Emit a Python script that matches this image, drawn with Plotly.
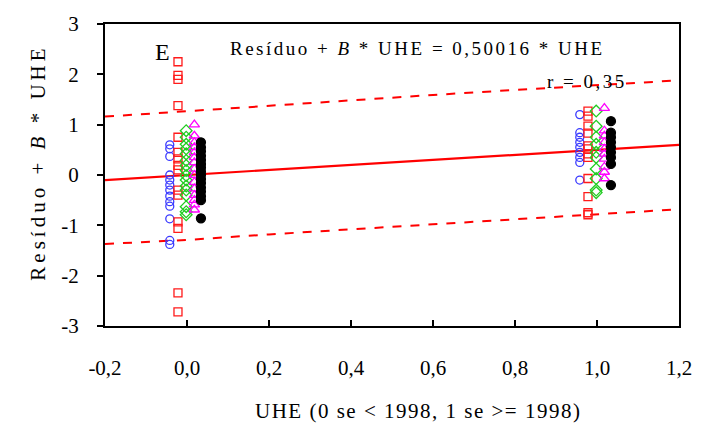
import plotly.graph_objects as go

# ---- data ----
group_offsets = {"blue": -0.042, "red": -0.022, "green": -0.002, "magenta": 0.018, "black": 0.034}

blue_0 = [0.6, 0.52, 0.37, 0.0, -0.1, -0.2, -0.3, -0.42, -0.53, -0.62, -0.87, -1.3, -1.38]
blue_1 = [1.2, 0.84, 0.75, 0.65, 0.55, 0.45, 0.35, 0.25, -0.1]
red_0 = [2.25, 1.98, 1.9, 1.38, 0.75, 0.45, 0.32, 0.19, 0.1, -0.3, -0.4, -0.93, -1.06, -2.34, -2.72]
red_1 = [1.27, 1.17, 0.97, 0.83, 0.58, 0.52, 0.42, 0.35, -0.07, -0.43, -0.75, -0.79]
green_0 = [0.88, 0.75, 0.61, 0.52, 0.42, 0.29, 0.19, 0.09, -0.01, -0.1, -0.22, -0.3, -0.4, -0.63, -0.73, -0.79]
green_1 = [1.27, 0.97, 0.75, 0.61, 0.45, 0.35, 0.12, -0.07, -0.3, -0.35]
magenta_0 = [1.0, 0.78, 0.65, 0.55, 0.45, 0.35, 0.25, 0.12, 0.0, -0.14, -0.27, -0.4, -0.5, -0.59, -0.69]
magenta_1 = [1.33, 0.88, 0.78, 0.65, 0.52, 0.42, 0.32, 0.16, 0.06, -0.07]
black_0 = [0.65, 0.55, 0.47, 0.38, 0.3, 0.22, 0.15, 0.07, 0.0, -0.08, -0.16, -0.25, -0.33, -0.42, -0.5, -0.86]
black_1 = [1.07, 0.84, 0.75, 0.65, 0.55, 0.45, 0.35, 0.22, -0.2]

fit_x = [-0.2, 1.2]
fit_y = [-0.1, 0.6]
band_x = [-0.2, 0.0, 0.2, 0.4, 0.6, 0.8, 1.0, 1.2]
band_upper = [1.16, 1.27, 1.38, 1.49, 1.59, 1.69, 1.78, 1.88]
band_lower = [-1.37, -1.29, -1.18, -1.08, -0.98, -0.88, -0.78, -0.68]

x_tickvals = [-0.2, 0.0, 0.2, 0.4, 0.6, 0.8, 1.0, 1.2]
x_ticktext = ["-0,2", "0,0", "0,2", "0,4", "0,6", "0,8", "1,0", "1,2"]
y_tickvals = [-3, -2, -1, 0, 1, 2, 3]
y_ticktext = ["-3", "-2", "-1", "0", "1", "2", "3"]

FONT = "Liberation Serif, Times New Roman, serif"

fig = go.Figure()

# band and fit line
fig.add_trace(go.Scatter(x=band_x, y=band_upper, mode="lines",
                         line=dict(color="#ff0000", width=2, dash="dash"), hoverinfo="skip"))
fig.add_trace(go.Scatter(x=band_x, y=band_lower, mode="lines",
                         line=dict(color="#ff0000", width=2, dash="dash"), hoverinfo="skip"))
fig.add_trace(go.Scatter(x=fit_x, y=fit_y, mode="lines",
                         line=dict(color="#ff0000", width=2.2), hoverinfo="skip"))

def add_group(vals0, vals1, key, symbol, color, size=8):
    off = group_offsets[key]
    xs = [0 + off] * len(vals0) + [1 + off] * len(vals1)
    ys = list(vals0) + list(vals1)
    fig.add_trace(go.Scatter(
        x=xs, y=ys, mode="markers",
        marker=dict(symbol=symbol, size=size, color=color,
                    line=dict(color=color, width=1.3)),
    ))

add_group(blue_0, blue_1, "blue", "circle-open", "#3a3aff", size=8)
add_group(red_0, red_1, "red", "square-open", "#ff1a1a", size=8)
add_group(green_0, green_1, "green", "diamond-open", "#22cc22", size=9)
add_group(magenta_0, magenta_1, "magenta", "triangle-up-open", "#ff00ff", size=9)
add_group(black_0, black_1, "black", "circle", "#000000", size=9)

sp = lambda s, px: f'<span style="letter-spacing:{px}px">{s}</span>'

fig.update_layout(
    width=704, height=430,
    margin=dict(l=105, r=21, t=20, b=104),
    paper_bgcolor="white", plot_bgcolor="white",
    showlegend=False,
    font=dict(family=FONT, color="black", size=20),
    xaxis=dict(range=[-0.2, 1.2], tickvals=x_tickvals, ticktext=x_ticktext,
               showgrid=False, zeroline=False, showline=True, linecolor="black", linewidth=2,
               mirror=True, ticks="inside", ticklen=6, tickwidth=2, tickcolor="black",
               ticklabelstandoff=22,
               tickfont=dict(size=21, family=FONT)),
    yaxis=dict(range=[-3, 3], tickvals=y_tickvals, ticktext=y_ticktext,
               showgrid=False, zeroline=False, showline=True, linecolor="black", linewidth=2,
               mirror=True, ticks="outside", ticklen=6, tickwidth=2, tickcolor="black",
               ticklabelstandoff=14,
               tickfont=dict(size=21, family=FONT)),
    annotations=[
        # axis titles
        dict(x=(420 - 105) / 578, y=-(412 - 326) / 306, xref="paper", yref="paper",
             xanchor="center", yanchor="middle",
             text=sp("UHE (0 se &lt; 1998, 1 se &gt;= 1998)", 1.5), showarrow=False,
             font=dict(size=21, family=FONT)),
        dict(x=-(105 - 38) / 578, y=(326 - 160) / 306, xref="paper", yref="paper",
             xanchor="center", yanchor="middle",
             text=sp("Resíduo + <i>B</i> * UHE", 4), showarrow=False, textangle=-90,
             font=dict(size=21, family=FONT)),
        # in-plot labels
        dict(x=-0.06, y=2.45, xref="x", yref="y", text="E", showarrow=False,
             font=dict(size=24, family=FONT)),
        dict(x=0.563, y=2.51, xref="x", yref="y",
             text=sp("Resíduo + <i>B</i> * UHE = 0,50016 * UHE", 2.5), showarrow=False,
             font=dict(size=19, family=FONT)),
        dict(x=1.078, y=1.86, xref="x", yref="y", xanchor="right",
             text=sp("r = 0,35", 2.5), showarrow=False,
             font=dict(size=19, family=FONT)),
    ],
)

fig.write_html("out.html")
